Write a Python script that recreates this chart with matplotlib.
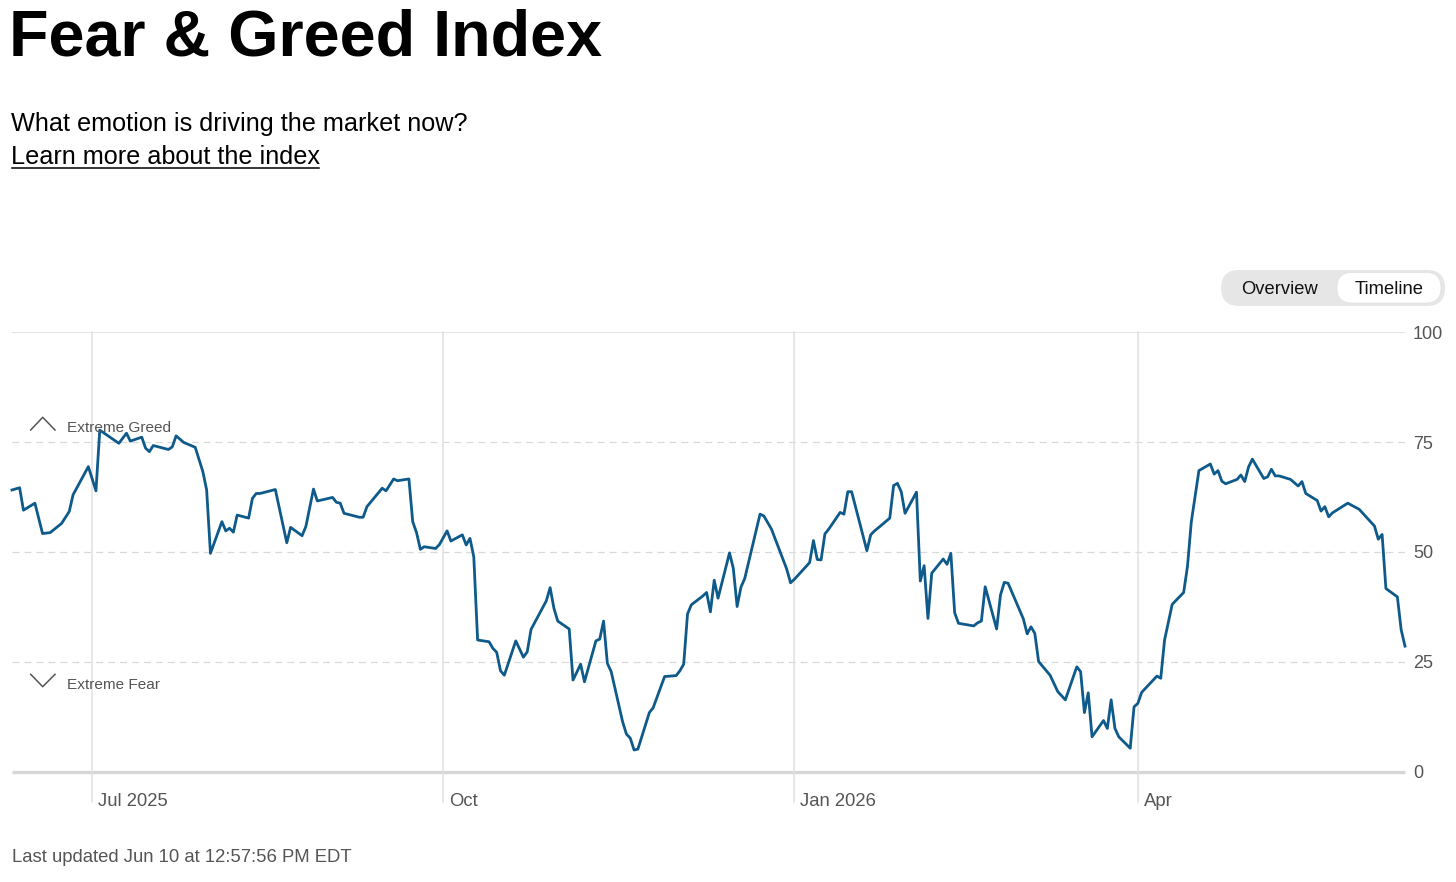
import matplotlib
matplotlib.use("Agg")
import matplotlib.pyplot as plt
import matplotlib.transforms as mtransforms
from matplotlib.patches import FancyBboxPatch
import pandas as pd

plt.rcParams["font.family"] = ["Liberation Sans", "DejaVu Sans"]
plt.rcParams["lines.scale_dashes"] = False

dates = [
    "2025-06-10", "2025-06-12", "2025-06-13", "2025-06-16", "2025-06-18", "2025-06-20",
    "2025-06-23", "2025-06-25", "2025-06-26", "2025-06-30", "2025-07-02", "2025-07-03",
    "2025-07-08", "2025-07-10", "2025-07-11", "2025-07-14", "2025-07-15", "2025-07-16",
    "2025-07-17", "2025-07-21", "2025-07-22", "2025-07-23", "2025-07-25", "2025-07-28",
    "2025-07-30", "2025-07-31", "2025-08-01", "2025-08-04", "2025-08-05", "2025-08-06",
    "2025-08-07", "2025-08-08", "2025-08-11", "2025-08-12", "2025-08-13", "2025-08-14",
    "2025-08-18", "2025-08-21", "2025-08-22", "2025-08-25", "2025-08-26", "2025-08-28",
    "2025-08-29", "2025-09-02", "2025-09-03", "2025-09-04", "2025-09-05", "2025-09-09",
    "2025-09-10", "2025-09-11", "2025-09-15", "2025-09-16", "2025-09-18", "2025-09-19",
    "2025-09-22", "2025-09-23", "2025-09-24", "2025-09-25", "2025-09-26", "2025-09-29",
    "2025-09-30", "2025-10-02", "2025-10-03", "2025-10-06", "2025-10-07", "2025-10-08",
    "2025-10-09", "2025-10-10", "2025-10-13", "2025-10-14", "2025-10-15", "2025-10-16",
    "2025-10-17", "2025-10-20", "2025-10-22", "2025-10-23", "2025-10-24", "2025-10-28",
    "2025-10-29", "2025-10-30", "2025-10-31", "2025-11-03", "2025-11-04", "2025-11-06",
    "2025-11-07", "2025-11-10", "2025-11-11", "2025-11-12", "2025-11-13", "2025-11-14",
    "2025-11-17", "2025-11-18", "2025-11-19", "2025-11-20", "2025-11-21", "2025-11-24",
    "2025-11-25", "2025-11-28", "2025-12-01", "2025-12-02", "2025-12-03", "2025-12-04",
    "2025-12-05", "2025-12-08", "2025-12-09", "2025-12-10", "2025-12-11", "2025-12-12",
    "2025-12-15", "2025-12-16", "2025-12-17", "2025-12-18", "2025-12-19", "2025-12-23",
    "2025-12-24", "2025-12-26", "2025-12-30", "2025-12-31", "2026-01-01", "2026-01-05",
    "2026-01-06", "2026-01-07", "2026-01-08", "2026-01-09", "2026-01-10", "2026-01-13",
    "2026-01-14", "2026-01-15", "2026-01-16", "2026-01-20", "2026-01-21", "2026-01-22",
    "2026-01-23", "2026-01-26", "2026-01-27", "2026-01-28", "2026-01-29", "2026-01-30",
    "2026-02-02", "2026-02-03", "2026-02-04", "2026-02-05", "2026-02-06", "2026-02-09",
    "2026-02-10", "2026-02-11", "2026-02-12", "2026-02-13", "2026-02-17", "2026-02-18",
    "2026-02-19", "2026-02-20", "2026-02-23", "2026-02-24", "2026-02-25", "2026-02-26",
    "2026-03-02", "2026-03-03", "2026-03-04", "2026-03-05", "2026-03-06", "2026-03-09",
    "2026-03-11", "2026-03-13", "2026-03-16", "2026-03-17", "2026-03-18", "2026-03-19",
    "2026-03-20", "2026-03-23", "2026-03-24", "2026-03-25", "2026-03-26", "2026-03-27",
    "2026-03-30", "2026-03-31", "2026-04-01", "2026-04-02", "2026-04-06", "2026-04-07",
    "2026-04-08", "2026-04-10", "2026-04-13", "2026-04-14", "2026-04-15", "2026-04-17",
    "2026-04-20", "2026-04-21", "2026-04-22", "2026-04-23", "2026-04-24", "2026-04-27",
    "2026-04-28", "2026-04-29", "2026-04-30", "2026-05-01", "2026-05-04", "2026-05-05",
    "2026-05-06", "2026-05-07", "2026-05-08", "2026-05-11", "2026-05-13", "2026-05-14",
    "2026-05-15", "2026-05-18", "2026-05-19", "2026-05-20", "2026-05-21", "2026-05-22",
    "2026-05-26", "2026-05-29", "2026-06-02", "2026-06-03", "2026-06-04", "2026-06-05",
    "2026-06-08", "2026-06-09", "2026-06-10",
]
scores = [
    64.1, 64.6, 59.5, 61.1, 54.2, 54.4,
    56.5, 59.2, 63.0, 69.4, 63.9, 77.7,
    74.7, 77.0, 75.2, 76.1, 73.6, 72.8,
    74.2, 73.3, 73.9, 76.4, 74.9, 73.8,
    68.3, 64.1, 49.7, 56.9, 54.8, 55.4,
    54.5, 58.4, 57.7, 62.2, 63.3, 63.3,
    64.2, 52.1, 55.6, 53.7, 55.8, 64.3,
    61.6, 62.4, 61.3, 61.1, 58.8, 57.9,
    57.9, 60.3, 64.5, 63.9, 66.6, 66.2,
    66.6, 56.9, 54.4, 50.6, 51.2, 50.8,
    51.7, 54.8, 52.5, 53.9, 51.6, 53.1,
    48.9, 30.0, 29.6, 28.1, 27.2, 23.0,
    22.0, 29.8, 26.1, 27.3, 32.4, 38.9,
    41.9, 37.2, 34.3, 32.5, 20.9, 24.5,
    20.5, 29.8, 30.2, 34.3, 24.7, 22.8,
    11.4, 8.6, 7.7, 5.0, 5.2, 13.5,
    14.6, 21.7, 21.9, 23.0, 24.5, 35.9,
    38.0, 40.0, 40.8, 36.4, 43.6, 39.5,
    49.8, 46.3, 37.6, 42.0, 44.0, 58.6,
    58.2, 55.2, 46.1, 43.0, 43.8, 47.6,
    52.6, 48.3, 48.2, 54.1, 55.2, 59.0,
    58.6, 63.7, 63.7, 50.3, 53.9, 54.8,
    55.5, 57.7, 65.1, 65.6, 63.7, 58.8,
    63.6, 43.4, 46.9, 34.9, 45.2, 48.4,
    47.2, 49.7, 36.2, 33.8, 33.2, 33.9,
    34.3, 42.1, 32.5, 40.2, 43.1, 42.9,
    34.8, 31.4, 33.0, 31.5, 25.1, 22.0,
    18.3, 16.4, 23.9, 22.8, 13.5, 18.0,
    8.0, 11.7, 9.9, 16.4, 9.9, 8.0,
    5.4, 14.8, 15.6, 18.1, 21.8, 21.3,
    30.0, 38.1, 40.8, 46.7, 56.8, 68.5,
    70.0, 67.7, 68.5, 66.1, 65.5, 66.5,
    67.5, 66.0, 69.3, 71.1, 66.7, 67.1,
    68.8, 67.3, 67.3, 66.5, 65.0, 66.0,
    63.3, 61.7, 59.3, 60.3, 58.0, 58.9,
    61.1, 59.7, 55.9, 52.9, 54.0, 41.7,
    39.8, 32.3, 28.6,
]
month_ticks = ["2025-07-01", "2025-10-01", "2026-01-01", "2026-04-01"]
month_labels = ["Jul 2025", "Oct", "Jan 2026", "Apr"]
score_ticks = [0, 25, 50, 75, 100]

W, H = 1456, 882
LINE = "#0e5a8a"
GREY_TXT = "#555555"

fig = plt.figure(figsize=(W / 100, H / 100), dpi=100)
fig.patch.set_facecolor("white")

# main chart axes, placed in pixel terms
x0, x1, ytop, ybot = 12, 1405, 332, 772
ax = fig.add_axes([x0 / W, 1 - ybot / H, (x1 - x0) / W, (ybot - ytop) / H])
ax.set_facecolor("none")
for s in ax.spines.values():
    s.set_visible(False)

ts = pd.to_datetime(dates)
ax.set_xlim(pd.Timestamp("2025-06-10"), pd.Timestamp("2026-06-10"))
ax.set_ylim(0, 100)

# grid
ax.axhline(100, color="#e3e3e3", lw=0.8, zorder=1)
for v in (25, 50, 75):
    ax.axhline(v, color="#d9d9d9", lw=0.9, dashes=(5.0, 3.6), zorder=1)
ax.axhline(0, color="#d6d6d6", lw=2.4, zorder=1, clip_on=False,
           solid_capstyle="butt")
below = (801.5 - ybot) / (ybot - ytop)
for m in month_ticks:
    ax.axvline(pd.Timestamp(m), ymin=-below, ymax=1, color="#e0e0e0", lw=1.1,
               clip_on=False, zorder=1)

ax.plot(ts, scores, color=LINE, lw=2.0, solid_joinstyle="round", zorder=3,
        clip_on=False)

# y ticks on the right
ax.yaxis.tick_right()
ax.set_yticks(score_ticks)
ax.set_yticklabels([str(v) for v in score_ticks])
ax.tick_params(axis="y", length=0, pad=5.8, labelsize=13, labelcolor=GREY_TXT)

# x ticks, labels left aligned just right of the line
ax.set_xticks(pd.to_datetime(month_ticks))
ax.set_xticklabels(month_labels, ha="left")
ax.tick_params(axis="x", length=0, pad=15, labelsize=13.3, labelcolor=GREY_TXT)
shift = mtransforms.ScaledTranslation(6 / 100, 0, fig.dpi_scale_trans)
for lab in ax.get_xticklabels():
    lab.set_transform(lab.get_transform() + shift)

# overlay in pixel coords for the page furniture
ov = fig.add_axes([0, 0, 1, 1], zorder=5)
ov.set_xlim(0, W)
ov.set_ylim(H, 0)
ov.axis("off")
ov.patch.set_alpha(0)

ov.text(9, 56, "Fear & Greed Index", fontsize=46.5, fontweight="bold",
        color="black", va="baseline")
ov.text(11, 130.5, "What emotion is driving the market now?", fontsize=18.2,
        color="black", va="baseline")
ov.text(11, 164, "Learn more about the index", fontsize=18.2, color="black",
        va="baseline")
ov.plot([12, 319], [167.5, 167.5], color="black", lw=1.1)

# toggle
ov.add_patch(FancyBboxPatch((1221, 270), 224, 36,
                            boxstyle="round,pad=0,rounding_size=18",
                            fc="#e6e6e6", ec="none"))
ov.add_patch(FancyBboxPatch((1337, 272.5), 104, 30.5,
                            boxstyle="round,pad=0,rounding_size=15",
                            fc="white", ec="#e0e0e0", lw=0.5))
ov.text(1280, 289, "Overview", fontsize=13.2, color="#111111",
        ha="center", va="center")
ov.text(1389.5, 289, "Timeline", fontsize=13.2, color="#111111",
        ha="center", va="center")

# extreme greed / fear markers
ov.plot([30.7, 42.7, 55], [430, 417.3, 430], color=GREY_TXT, lw=1.1)
ov.text(67, 431.5, "Extreme Greed", fontsize=11.1, color=GREY_TXT, va="baseline")
ov.plot([30.7, 42.7, 55], [674.3, 686.7, 674.3], color=GREY_TXT, lw=1.1)
ov.text(67, 689, "Extreme Fear", fontsize=11.1, color=GREY_TXT, va="baseline")

ov.text(12, 861.5, "Last updated Jun 10 at 12:57:56 PM EDT", fontsize=13.3,
        color=GREY_TXT, va="baseline")

fig.savefig("out.png", dpi=100, facecolor="white")
